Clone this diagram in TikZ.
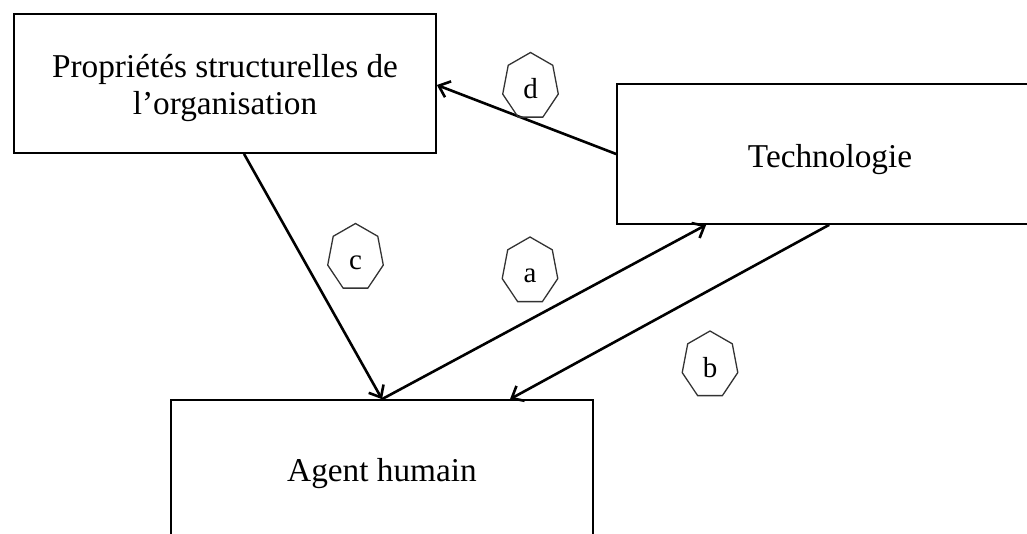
\documentclass[tikz,border=0pt]{standalone}
\usepackage{fontspec}
\setmainfont{Liberation Serif}
\usetikzlibrary{arrows.meta,calc}
\newcommand\heptdraw[1]{%
  \draw[heptline] ($(#1)+(90:28.5pt and 34pt)$)
    \foreach \k in {1,...,6}{ -- ($(#1)+({90+\k*360/7}:28.5pt and 34pt)$) } -- cycle;}
\begin{document}
\begin{tikzpicture}[x=1pt,y=-1pt,
  box/.style={draw=black, line width=1.7pt, inner sep=0pt, minimum width=#1},
  box/.default=422pt,
  boxtext/.style={font=\fontsize{33.3}{37}\selectfont, align=center, inner sep=0pt},
  heptline/.style={draw=black!80, line width=1.3pt},
  heptext/.style={font=\fontsize{29}{32}\selectfont, anchor=base, inner sep=0pt},
  conn/.style={line width=2.6pt, -{Straight Barb[length=10pt,width=17pt]}}
]
\useasboundingbox (0,0) rectangle (1027,534);
\clip (0,0) rectangle (1027,534);

% boxes
\node[box=422pt, minimum height=139pt] (box1) at (225,83.5) {};
\node[boxtext] (box1t) at (225,88.5) {Propriétés structurelles de\\l’organisation};
\node[box=426pt, minimum height=140pt] (tech) at (830,154) {};
\node[boxtext] (techt) at (830,160) {Technologie};
\node[box=422pt, minimum height=136pt] (agent) at (382,468) {};
\node[boxtext] (agentt) at (382,474) {Agent humain};

% connectors
\draw[conn] ([xshift=19pt]box1.south) -- (agent.north);
\draw[conn] (agent.north) -- ([xshift=90pt]tech.south west);
\draw[conn] ([xshift=213pt]tech.south west) -- ([xshift=128pt]agent.north);
\draw[conn] (tech.west) -- ([yshift=-1.5pt]box1.east);

% heptagon labels
\coordinate (hd) at (530.5,86.5);
\coordinate (hc) at (355.5,257.5);
\coordinate (ha) at (530,271);
\coordinate (hb) at (710,365);
\heptdraw{hd}\heptdraw{hc}\heptdraw{ha}\heptdraw{hb}
\node[heptext] (ld) at ($(hd)+(0,12)$) {d};
\node[heptext] (lc) at ($(hc)+(0,12)$) {c};
\node[heptext] (la) at ($(ha)+(0,12)$) {a};
\node[heptext] (lb) at ($(hb)+(0,12)$) {b};
\end{tikzpicture}
\end{document}
